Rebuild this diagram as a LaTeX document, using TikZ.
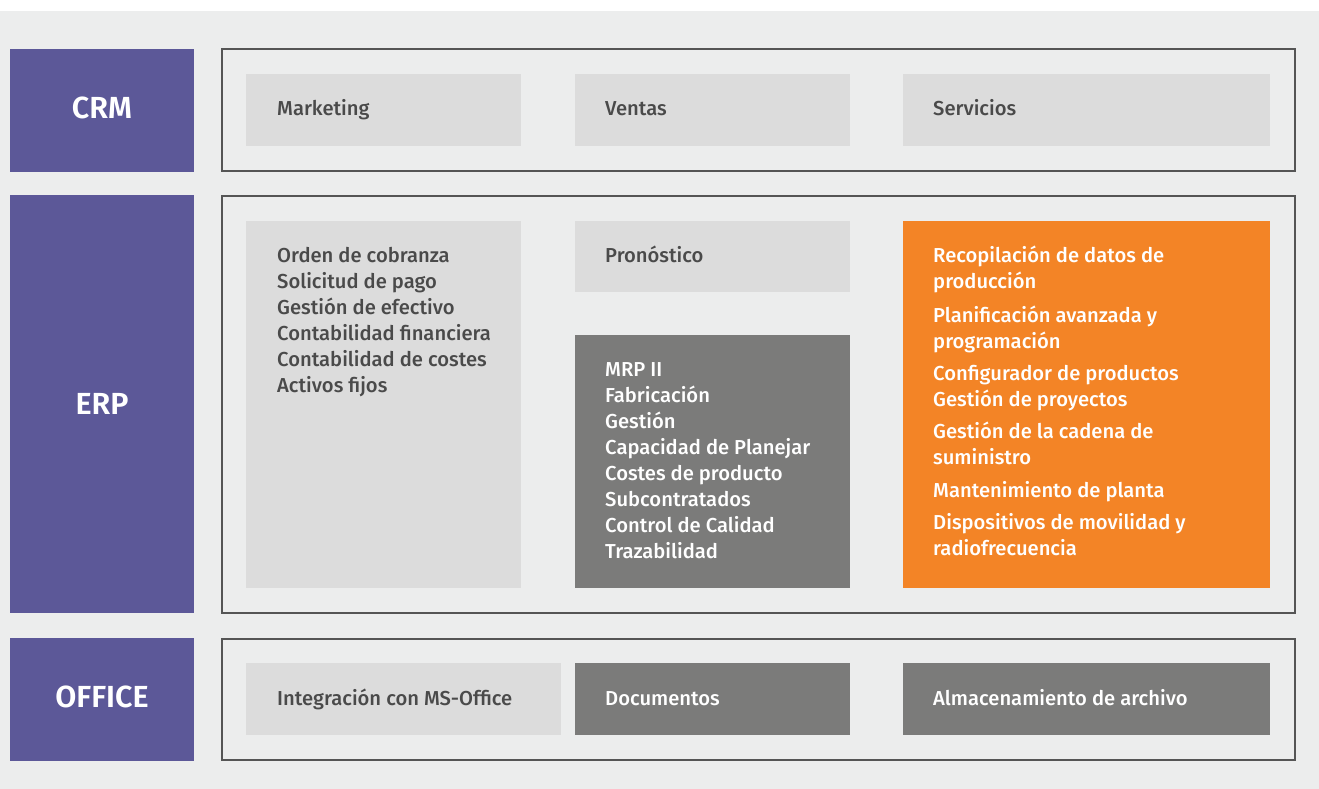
\documentclass[tikz,border=0pt]{standalone}
\usepackage{fontspec}
\setmainfont{Fira Sans}[UprightFont=* Medium, BoldFont=* SemiBold]
\definecolor{bgc}{HTML}{ECEDED}
\definecolor{purp}{HTML}{5C5898}
\definecolor{lgc}{HTML}{DCDCDC}
\definecolor{dgc}{HTML}{7B7B7A}
\definecolor{orc}{HTML}{F38426}
\definecolor{txc}{HTML}{4A4A4A}
\definecolor{frc}{HTML}{555555}
\tikzset{
  labbox/.style={fill=purp},
  framebox/.style={draw=frc, line width=1.1pt},
  lbox/.style={fill=lgc},
  dbox/.style={fill=dgc},
  obox/.style={fill=orc},
  lab/.style={font=\bfseries\fontsize{30.5}{32}\selectfont, text=white, inner sep=0pt},
  dtx/.style={anchor=base west, inner sep=0pt, font=\fontsize{20.2}{24}\selectfont, text=txc},
  wtx/.style={dtx, text=white},
}
\begin{document}
\begin{tikzpicture}[x=1pt,y=-1pt]
\useasboundingbox (0,0) rectangle (1319,789);
\fill[white] (0,0) rectangle (1319,789);
\fill[bgc] (0,11) rectangle (1319,789);
% purple labels
\fill[labbox] (10,49) rectangle (194,172);
\fill[labbox] (10,195) rectangle (194,613);
\fill[labbox] (10,638) rectangle (194,761);
\node[lab] (crm) at (102,108) {CRM};
\node[lab] (erp) at (102,404) {ERP};
\node[lab] (office) at (102,697) {OFFICE};
% frames
\draw[framebox] (222,49) rectangle (1295,171);
\draw[framebox] (222,196) rectangle (1295,613);
\draw[framebox] (222,639) rectangle (1295,760);
% CRM
\fill[lbox] (246,74) rectangle (521,146);
\fill[lbox] (575,74) rectangle (850,146);
\fill[lbox] (903,74) rectangle (1270,146);
\node[dtx] (mkt) at (277,116) {Marketing};
\node[dtx] (ven) at (605,116) {Ventas};
\node[dtx] (ser) at (933,116) {Servicios};
% ERP
\fill[lbox] (246,221) rectangle (521,588);
\fill[lbox] (575,221) rectangle (850,292);
\fill[dbox] (575,335) rectangle (850,588);
\fill[obox] (903,221) rectangle (1270,588);
\node[dtx] (f1) at (277,262) {Orden de cobranza};
\node[dtx] (f2) at (277,288) {Solicitud de pago};
\node[dtx] (f3) at (277,314) {Gestión de efectivo};
\node[dtx] (f4) at (277,340) {Contabilidad financiera};
\node[dtx] (f5) at (277,366) {Contabilidad de costes};
\node[dtx] (f6) at (277,392) {Activos fijos};
\node[dtx] (pro) at (605,262) {Pronóstico};
\node[wtx] (m1) at (605,376) {MRP II};
\node[wtx] (m2) at (605,402) {Fabricación};
\node[wtx] (m3) at (605,428) {Gestión};
\node[wtx] (m4) at (605,454) {Capacidad de Planejar};
\node[wtx] (m5) at (605,480) {Costes de producto};
\node[wtx] (m6) at (605,506) {Subcontratados};
\node[wtx] (m7) at (605,532) {Control de Calidad};
\node[wtx] (m8) at (605,558) {Trazabilidad};
\node[wtx] (o1) at (933,262) {Recopilación de datos de};
\node[wtx] (o2) at (933,288) {producción};
\node[wtx] (o3) at (933,322) {Planificación avanzada y};
\node[wtx] (o4) at (933,348) {programación};
\node[wtx] (o5) at (933,380) {Configurador de productos};
\node[wtx] (o6) at (933,406) {Gestión de proyectos};
\node[wtx] (o7) at (933,438) {Gestión de la cadena de};
\node[wtx] (o8) at (933,464) {suministro};
\node[wtx] (o9) at (933,497) {Mantenimiento de planta};
\node[wtx] (o10) at (933,529) {Dispositivos de movilidad y};
\node[wtx] (o11) at (933,555) {radiofrecuencia};
% OFFICE
\fill[lbox] (246,663) rectangle (561,735);
\fill[dbox] (575,663) rectangle (850,735);
\fill[dbox] (903,663) rectangle (1270,735);
\node[dtx] (int) at (277,705) {Integración con MS-Office};
\node[wtx] (doc) at (605,705) {Documentos};
\node[wtx] (alm) at (933,705) {Almacenamiento de archivo};
\end{tikzpicture}
\end{document}
